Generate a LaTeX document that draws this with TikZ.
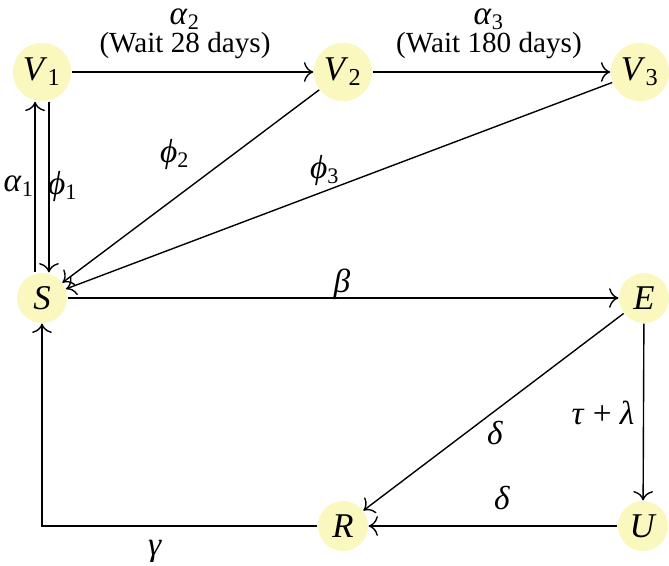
\documentclass[tikz,border=0pt]{standalone}
\usepackage{fontspec}
\setmainfont{Liberation Serif}
\usetikzlibrary{arrows.meta}
\definecolor{nodefill}{RGB}{250,248,190}
\newcommand\gk[1]{\textit{#1}}
\begin{document}
\begin{tikzpicture}[x=0.36pt,y=-0.36pt,
  font=\fontsize{10.5}{12.6}\selectfont,
  state/.style={circle, fill=nodefill, inner sep=0pt, minimum size=18pt, font=\fontsize{12.5}{14}\selectfont},
  vstate/.style={state, minimum size=21pt},
  flow/.style={-{To[scale=1.25]}, line width=0.5pt},
  lbl/.style={inner sep=0pt},
  glbl/.style={inner sep=0pt, font=\fontsize{12}{14}\selectfont}]
\useasboundingbox (0,0) rectangle (669,565);
\node[vstate] (V1) at (42,72) {\textit{V}\textsubscript{1}};
\node[vstate] (V2) at (343,72) {\textit{V}\textsubscript{2}};
\node[vstate] (V3) at (640,72) {\textit{V}\textsubscript{3}};
\node[state] (S) at (42,298) {\textit{S}};
\node[state] (E) at (644,298) {\textit{E}};
\node[state] (R) at (343,526) {\textit{R}};
\node[state] (U) at (643,526) {\textit{U}};

\draw[flow] (V1) -- (V2);
\draw[flow] (V2) -- (V3);
\draw[flow] ([xshift=-2.5pt]S.north) -- ([xshift=-2.5pt]V1.south);
\draw[flow] ([xshift=2.5pt]V1.south) -- ([xshift=2.5pt]S.north);
\draw[flow] (V2) -- (S);
\draw[flow] (V3) -- (S);
\draw[flow] (S) -- (E);
\draw[flow] (E) -- (R);
\draw[flow] (E) -- (U);
\draw[flow] (U) -- (R);
\draw[flow] (R) -| (S);

\node[glbl] (la2) at (185,19) {\gk{α}\textsubscript{2}};
\node[lbl] (lw2) at (185,46) {(Wait 28 days)};
\node[glbl] (la3) at (489,19) {\gk{α}\textsubscript{3}};
\node[lbl] (lw3) at (489,46) {(Wait 180 days)};
\node[glbl] (la1) at (19,186) {\gk{α}\textsubscript{1}};
\node[glbl] (lf1) at (63,186) {\gk{ϕ}\textsubscript{1}};
\node[glbl] (lf2) at (175,154) {\gk{ϕ}\textsubscript{2}};
\node[glbl] (lf3) at (325,170) {\gk{ϕ}\textsubscript{3}};
\node[glbl] (lb) at (342,284) {\gk{β}};
\node[glbl] (ld1) at (495,433) {\gk{δ}};
\node[glbl] (ltl) at (603,413) {\gk{τ} + \gk{λ}};
\node[glbl] (ld2) at (502,498) {\gk{δ}};
\node[glbl] (lg) at (155,551) {\gk{γ}};
\end{tikzpicture}
\end{document}
